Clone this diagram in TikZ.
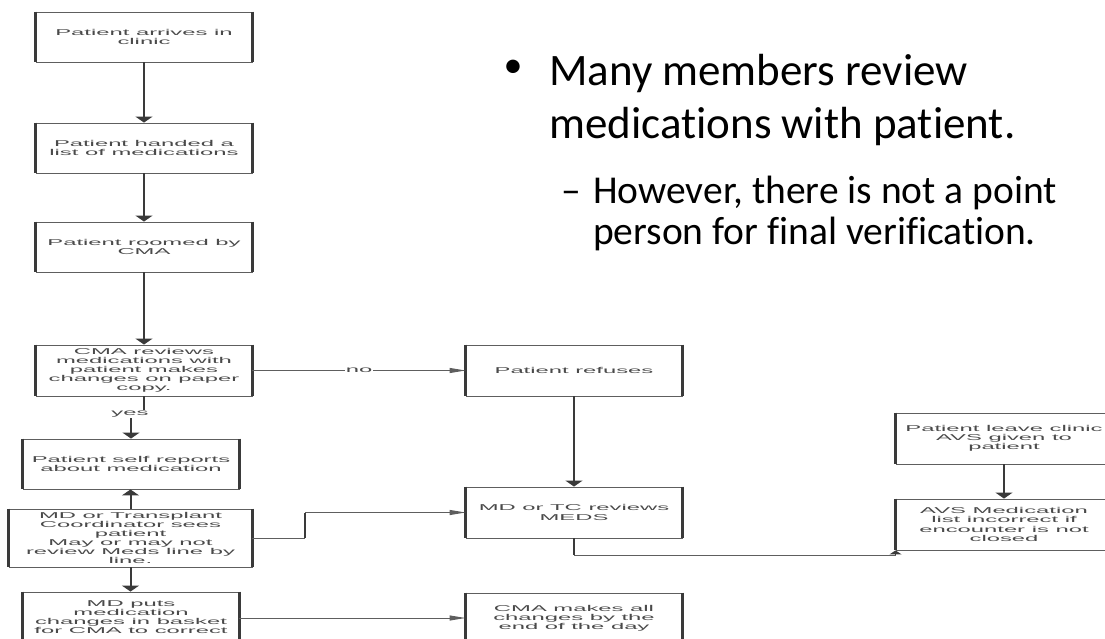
\documentclass[tikz,border=0pt]{standalone}
\usepackage{fontspec}
\usepackage{graphicx}
\usetikzlibrary{arrows.meta}
\newfontfamily\flowfont[FakeStretch=2.8]{Liberation Sans}
\newfontfamily\calib[Ligatures=CommonOff]{Carlito}
\definecolor{boxline}{HTML}{5E5E5E}
\definecolor{boxside}{HTML}{3A3A3A}
\definecolor{flowtext}{HTML}{4A4A4A}
\tikzset{
  fbox/.style={draw=boxline, line width=0.9pt, minimum width=216pt, minimum height=50pt,
    inner sep=0pt, align=center, text=flowtext, font=\flowfont\fontsize{8.5}{9.1}\selectfont},
  vside/.style={draw=boxside, line width=2.2pt},
  varrow/.style={draw=boxside, line width=2pt, -{Triangle[width=17pt,length=6pt]}},
  vline/.style={draw=boxside, line width=2pt},
  harrow/.style={draw=boxline, line width=1pt, -{Triangle[width=5pt,length=16pt]}},
  hline/.style={draw=boxline, line width=1pt},
  cornerarrow/.style={draw=boxside, line width=1.6pt, -{Triangle[width=12pt,length=4pt]}},
  lbl/.style={fill=white, inner sep=1pt, text=flowtext, font=\flowfont\fontsize{8.5}{9.1}\selectfont},
  lvone/.style={anchor=base west, inner sep=0pt, font=\calib\fontsize{45}{53}\selectfont},
  lvtwo/.style={anchor=base west, inner sep=0pt, font=\calib\fontsize{39.5}{41}\selectfont}
}
\begin{document}
\begin{tikzpicture}[x=1pt,y=-1pt]
\useasboundingbox (0,0) rectangle (1105,638);
\fill[white] (0,0) rectangle (1105,638);
\clip (0,0) rectangle (1105,638);

% left column
\node[fbox] (b1) at (144,37) {Patient arrives in\\clinic};
\node[fbox] (b2) at (144,148) {Patient handed a\\list of medications};
\node[fbox] (b3) at (144,247) {Patient roomed by\\CMA};
\node[fbox, minimum height=51pt] (b4) at (144,370.5) {CMA reviews\\medications with\\patient makes\\changes on paper\\copy.};
\node[fbox] (b5) at (131,464) {Patient self reports\\about medication};
\node[fbox, minimum width=243pt, minimum height=58pt] (b6) at (130.5,538) {MD or Transplant\\Coordinator sees\\patient\\May or may not\\review Meds line by\\line.};
\node[fbox] (b7) at (131,617) {MD puts\\medication\\changes in basket\\for CMA to correct};

% middle column
\node[fbox, minimum height=51pt] (m1) at (574,370.5) {Patient refuses};
\node[fbox, minimum height=51pt] (m2) at (574,512.5) {MD or TC reviews\\MEDS};
\node[fbox] (m3) at (574,618) {CMA makes all\\changes by the\\end of the day};

% right column
\node[fbox, minimum height=51pt] (r1) at (1004,438.5) {Patient leave clinic\\AVS given to\\patient};
\node[fbox, minimum height=51pt] (r2) at (1004,524.5) {AVS Medication\\list incorrect if\\encounter is not\\closed};

% thicker vertical sides
\foreach \n in {b1,b2,b3,b4,b5,b6,b7,m1,m2,m3,r1,r2}
  \draw[vside] (\n.north west) -- (\n.south west) (\n.north east) -- (\n.south east);

% connectors
\draw[varrow] (b1.south) -- (b2.north);
\draw[varrow] (b2.south) -- (b3.north);
\draw[varrow] (b3.south) -- (b4.north);
\node[lbl, fill=none] (yes) at (130,414) {yes};
\draw[vline] (b4.south) -- (b4.south |- yes.north);
\draw[varrow] (yes.south -| b5.north) -- (b5.north);
\draw[varrow] (b6.north) -- (b6.north |- b5.south);
\draw[varrow] (b6.south) -- (b6.south |- b7.north);
\draw[harrow] (b4.east) -- node[lbl] {no} (m1.west);
\coordinate (k1) at ([xshift=53pt]b6.east);
\coordinate (k2) at (k1 |- m2.west);
\draw[hline] (b6.east) -- (k1);
\draw[vline] (k1) -- (k2);
\draw[harrow] (k2) -- (m2.west);
\draw[harrow] (b7.east |- m3.west) -- (m3.west);
\draw[varrow] (m1.south) -- (m2.north);
\coordinate (k3) at ([yshift=-17pt]m2.south);
\coordinate (k4) at (k3 -| r2.south west);
\draw[vline] (m2.south) -- (k3);
\draw[hline] (k3) -- (k4);
\draw[cornerarrow] (k4) -- (r2.south west);
\draw[varrow] (r1.south) -- (r2.north);

% bullet text
\node[anchor=base west, inner sep=0pt, font=\calib\fontsize{38}{40}\selectfont] (bul) at (503.5,77) {\textbullet};
\node[lvone] (t1) at (549,85) {\vtop{\hbox{Many members review}\hbox{medications with patient.}}};
\node[lvtwo] (dsh) at (561,203) {\textendash};
\node[lvtwo] (t2) at (593,203) {\vtop{\hbox{However, there is not a point}\hbox{person for final verification.}}};
\end{tikzpicture}
\end{document}
